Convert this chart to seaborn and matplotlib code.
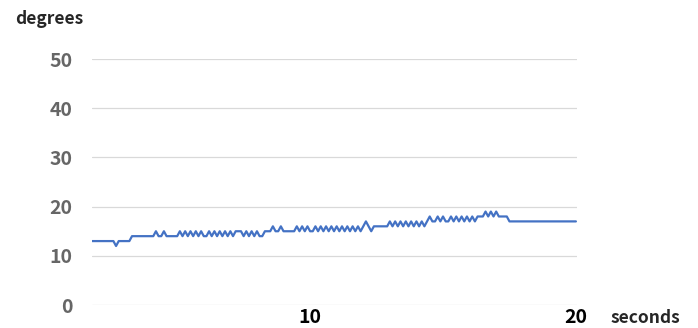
import numpy as np
import pandas as pd
import seaborn as sns
import matplotlib.pyplot as plt

# samples every 0.1 s from 1.8 s to 20.0 s
t_start = 1.8
t_step = 0.1
degrees = [
    13, 13, 13, 13, 13, 13, 13, 13, 13, 12, 13, 13, 13, 13, 13,          # 1.8 - 3.2
    14, 14, 14, 14, 14, 14, 14, 14, 14,                                  # 3.3 - 4.1
    15, 14, 14, 15, 14, 14, 14, 14, 14,                                  # 4.2 - 5.0
    15, 14, 15, 14, 15, 14, 15, 14, 15, 14, 14, 15, 14, 15, 14, 15, 14,  # 5.1 - 6.7
    15, 14, 15, 14, 15, 15, 15, 14, 15, 14, 15, 14, 15, 14, 14, 15,      # 6.8 - 8.3
    15, 15, 16, 15, 15, 16, 15, 15, 15, 15, 15,                          # 8.4 - 9.4
    16, 15, 16, 15, 16, 15, 15, 16, 15, 16, 15, 16, 15,                  # 9.5 - 10.7
    16, 15, 16, 15, 16, 15, 16, 15, 16, 15, 16, 15, 16,                  # 10.8 - 12.0
    17, 16, 15, 16, 16, 16, 16, 16, 16,                                  # 12.1 - 12.9
    17, 16, 17, 16, 17, 16, 17, 16, 17, 16, 17, 16, 17, 16,              # 13.0 - 14.3
    17, 18, 17, 17, 18, 17, 18, 17, 17, 18, 17, 18, 17, 18, 17, 18,      # 14.4 - 15.9
    17, 18, 17, 18,                                                      # 16.0 - 16.3
    18, 18, 19, 18, 19, 18, 19, 18, 18, 18, 18,                          # 16.4 - 17.4
    17, 17, 17, 17, 17, 17, 17, 17, 17, 17, 17, 17, 17,                  # 17.5 - 18.7
    17, 17, 17, 17, 17, 17, 17, 17, 17, 17, 17, 17, 17,                  # 18.8 - 20.0
]
seconds = np.round(t_start + t_step * np.arange(len(degrees)), 1)

y_ticks = [0, 10, 20, 30, 40, 50]
x_ticks = [10, 20]

df = pd.DataFrame({"seconds": seconds, "degrees": degrees})

sns.set_style("white")
plt.rcParams["font.family"] = ["Noto Sans CJK JP", "DejaVu Sans"]

fig = plt.figure(figsize=(6.98, 3.28), dpi=100)
ax = fig.add_axes([0.132, 0.070, 0.695, 0.750])

sns.lineplot(data=df, x="seconds", y="degrees", ax=ax, color="#4472C4", linewidth=1.6)

ax.set_xlim(seconds[0], 20.05)
ax.set_ylim(0, 50)
ax.set_yticks(y_ticks)
ax.set_xticks(x_ticks)
ax.yaxis.grid(True, color="#d9d9d9", linewidth=0.9)
ax.xaxis.grid(False)
for s in ax.spines.values():
    s.set_visible(False)

ax.tick_params(axis="y", length=0, pad=14, labelsize=14, labelcolor="#666666")
ax.tick_params(axis="x", length=0, pad=2, labelsize=14, labelcolor="black")
for lab in ax.get_yticklabels() + ax.get_xticklabels():
    lab.set_fontweight("bold")

ax.set_xlabel("")
ax.set_ylabel("")
fig.text(15 / 698, 1 - 19 / 328, "degrees", fontsize=12.5, fontweight="bold",
         ha="left", va="center")
fig.text(611 / 698, 1 - 318 / 328, "seconds", fontsize=12.5, fontweight="bold",
         ha="left", va="center")

fig.savefig("out.png", dpi=100)
